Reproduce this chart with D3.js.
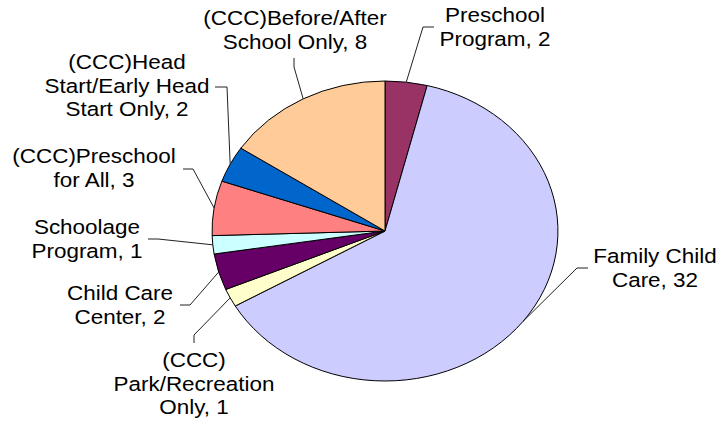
<!DOCTYPE html>
<html>
<head>
<meta charset="utf-8">
<script src="https://cdnjs.cloudflare.com/ajax/libs/d3/7.8.5/d3.min.js"></script>
<style>
  body { margin: 0; background: #fff; }
  text { font-family: Arial, "Liberation Sans", sans-serif; fill: #000; }
</style>
</head>
<body>
<svg id="chart" width="718" height="423"></svg>
<script>
// data, clockwise from 12 o'clock
let categories = [
    "Preschool Program",
    "Family Child Care",
    "(CCC) Park/Recreation Only",
    "Child Care Center",
    "Schoolage Program",
    "(CCC)Preschool for All",
    "(CCC)Head Start/Early Head Start Only",
    "(CCC)Before/After School Only"
]
let values = [2, 32, 1, 2, 1, 3, 2, 8]
let labelLines = [
    ["Preschool", "Program, 2"],
    ["Family Child", "Care, 32"],
    ["(CCC)", "Park/Recreation", "Only, 1"],
    ["Child Care", "Center, 2"],
    ["Schoolage", "Program, 1"],
    ["(CCC)Preschool", "for All, 3"],
    ["(CCC)Head", "Start/Early Head", "Start Only, 2"],
    ["(CCC)Before/After", "School Only, 8"]
]
let colors = ["#993366", "#CCCCFF", "#FFFFCC", "#660066", "#CCFFFF", "#FF8080", "#0066CC", "#FFCC99"]

// layout (chart is stretched horizontally like the original)
let cx = 385, cy = 231, r = 150, sx = 1.153
let lineGap = 23.5
// text centre x, first baseline, leader start, leader elbow
let labelLayout = [
    { x: 495, y: 22,  p0: [434, 27],  p1: [423, 27] },
    { x: 655, y: 263, p0: [588, 268], p1: [577, 268] },
    { x: 194, y: 367, p0: [194, 343], p1: [194, 335] },
    { x: 120, y: 300, p0: [180, 305], p1: [190, 305] },
    { x: 87,  y: 234, p0: [148, 239], p1: [158, 239] },
    { x: 94,  y: 163, p0: [183, 169], p1: [193, 169] },
    { x: 127, y: 69,  p0: [215, 87],  p1: [227, 87] },
    { x: 295, y: 25,  p0: [294, 58],  p1: [294, 67] }
]

let svg = d3.select("#chart")

let pie = d3.pie().sort(null).value(d => d)
let arcs = pie(values)
let arc = d3.arc().innerRadius(0).outerRadius(r)

svg.append("g")
    .attr("transform", "translate(" + cx + "," + cy + ") scale(" + sx + ",1)")
  .selectAll("path")
    .data(arcs)
    .enter().append("path")
      .attr("d", arc)
      .attr("fill", (d, i) => colors[i])
      .attr("stroke", "#000")
      .attr("stroke-width", 1)
      .attr("vector-effect", "non-scaling-stroke")

// leader lines end at the middle of each slice's rim
function rimPoint(d) {
    let a = (d.startAngle + d.endAngle) / 2
    return [cx + sx * r * Math.sin(a), cy - r * Math.cos(a)]
}

svg.append("g")
  .selectAll("path")
    .data(arcs)
    .enter().append("path")
      .attr("d", (d, i) => d3.line()([labelLayout[i].p0, labelLayout[i].p1, rimPoint(d)]))
      .attr("fill", "none")
      .attr("stroke", "#222")
      .attr("stroke-width", 1)

let labels = svg.append("g")
    .selectAll("g")
    .data(arcs)
    .enter().append("g")

labels.each(function(d, i) {
    let g = d3.select(this)
    labelLines[i].forEach((line, k) => {
        g.append("text")
            .attr("transform", "translate(" + labelLayout[i].x + "," + (labelLayout[i].y + k * lineGap) + ") scale(" + sx + ",1)")
            .attr("text-anchor", "middle")
            .style("font-size", "19.5px")
            .text(line)
    })
})
</script>
</body>
</html>
